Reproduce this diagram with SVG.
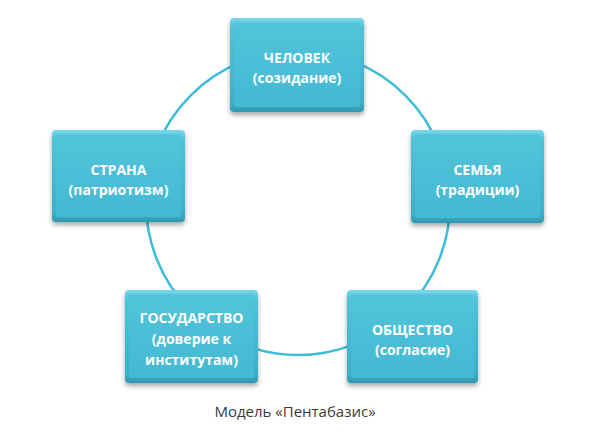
<svg xmlns="http://www.w3.org/2000/svg" width="600" height="441" viewBox="0 0 600 441">
<style>
.lbl{font-family:"Open Sans","Liberation Sans",sans-serif;font-weight:bold;font-size:14px;fill:#ffffff;text-anchor:middle}
.cap{font-family:"Open Sans","Liberation Sans",sans-serif;font-size:15px;fill:#3a3a3a;text-anchor:middle}
.ring{fill:none;stroke:#3dbcd9;stroke-width:2.5}
.outer{fill:url(#edge);filter:url(#sh)}
.inner{fill:url(#face)}
</style>
<defs>
<linearGradient id="edge" x1="0" y1="0" x2="0" y2="1">
<stop offset="0" stop-color="#7dd6e8"/>
<stop offset="0.1" stop-color="#4fc3da"/>
<stop offset="0.9" stop-color="#3bb0c9"/>
<stop offset="1" stop-color="#2d98b0"/>
</linearGradient>
<linearGradient id="face" x1="0" y1="0" x2="0" y2="1">
<stop offset="0" stop-color="#52c4db"/>
<stop offset="1" stop-color="#44b9d2"/>
</linearGradient>
<filter id="sh" x="-10%" y="-10%" width="120%" height="125%">
<feGaussianBlur in="SourceAlpha" stdDeviation="2.5"/>
<feOffset dx="0" dy="3" result="b"/>
<feComponentTransfer><feFuncA type="linear" slope="0.35"/></feComponentTransfer>
<feMerge><feMergeNode/><feMergeNode in="SourceGraphic"/></feMerge>
</filter>
</defs>
<rect width="600" height="441" fill="#ffffff"/>
<g id="connectors">
<circle class="ring" cx="298" cy="203" r="152"/>
</g>
<g id="node-chelovek">
<rect class="outer" x="230" y="18" width="134" height="94" rx="4"/>
<rect class="inner" x="234" y="22" width="126" height="85" rx="2"/>
<text class="lbl" x="297" y="63">ЧЕЛОВЕК</text>
<text class="lbl" x="297" y="83">(созидание)</text>
</g>
<g id="node-strana">
<rect class="outer" x="52" y="130" width="133" height="92" rx="4"/>
<rect class="inner" x="56" y="134" width="125" height="83" rx="2"/>
<text class="lbl" x="118.5" y="175">СТРАНА</text>
<text class="lbl" x="118.5" y="195">(патриотизм)</text>
</g>
<g id="node-semya">
<rect class="outer" x="411" y="130" width="133" height="93" rx="4"/>
<rect class="inner" x="415" y="134" width="125" height="84" rx="2"/>
<text class="lbl" x="477.5" y="175">СЕМЬЯ</text>
<text class="lbl" x="477.5" y="195">(традиции)</text>
</g>
<g id="node-gosudarstvo">
<rect class="outer" x="125" y="290" width="133" height="93" rx="4"/>
<rect class="inner" x="129" y="294" width="125" height="84" rx="2"/>
<text class="lbl" x="191.5" y="323">ГОСУДАРСТВО</text>
<text class="lbl" x="191.5" y="344">(доверие к</text>
<text class="lbl" x="191.5" y="365">институтам)</text>
</g>
<g id="node-obshchestvo">
<rect class="outer" x="347" y="290" width="131" height="93" rx="4"/>
<rect class="inner" x="351" y="294" width="123" height="84" rx="2"/>
<text class="lbl" x="412.5" y="335">ОБЩЕСТВО</text>
<text class="lbl" x="412.5" y="355">(согласие)</text>
</g>
<text class="cap" x="295" y="417">Модель «Пентабазис»</text>
</svg>
